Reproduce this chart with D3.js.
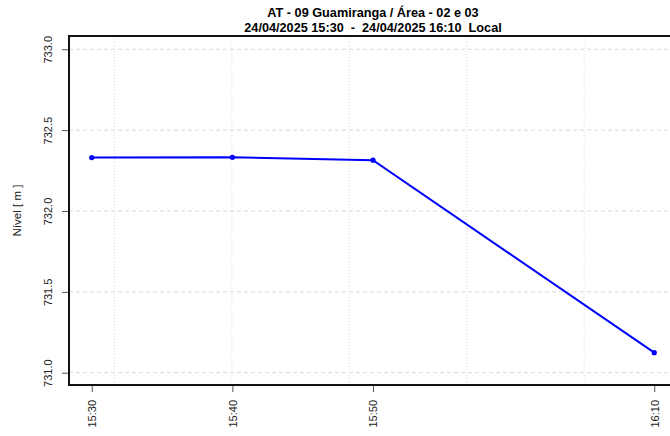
<!DOCTYPE html>
<html>
<head>
<meta charset="utf-8">
<script src="https://cdn.jsdelivr.net/npm/d3@7"></script>
<style>
  body { margin: 0; background: #fff; }
  text { font-family: "Liberation Sans", Arial, sans-serif; }
</style>
</head>
<body>
<svg width="670" height="436"></svg>
<script>
const times = ['15:30', '15:40', '15:50', '16:10']
const levels = [732.33, 732.332, 732.314, 731.124]
const yTicks = [731.0, 731.5, 732.0, 732.5, 733.0]
const gridTimes = ['15:31:37', '15:39:58', '15:48:19', '15:56:40', '16:05:01']
const titleLines = ['AT - 09 Guamiranga / Área - 02 e 03', '24/04/2025 15:30  -  24/04/2025 16:10  Local']

const parseT = s => {
  const p = s.split(':').map(Number)
  return new Date(2025, 3, 24, p[0], p[1], p[2] || 0)
}

const data = times.map((t, i) => ({ t: parseT(t), v: levels[i] }))

const plotL = 69, plotT = 36, plotB = 385, plotR = 677

const x = d3.scaleTime()
  .domain([parseT('15:28:23'), parseT('16:11:37')])
  .range([plotL, plotR])

const y = d3.scaleLinear()
  .domain([730.924, 733.082])
  .range([plotB, plotT])

const svg = d3.select('svg')

// grid
svg.append('g')
  .selectAll('line')
  .data(yTicks)
  .enter()
  .append('line')
  .attr('x1', plotL).attr('x2', plotR)
  .attr('y1', d => y(d)).attr('y2', d => y(d))
  .attr('stroke', '#d9d9d9')
  .attr('stroke-dasharray', '4,3')

svg.append('g')
  .selectAll('line')
  .data(gridTimes.map(parseT))
  .enter()
  .append('line')
  .attr('x1', d => x(d)).attr('x2', d => x(d))
  .attr('y1', plotT).attr('y2', plotB)
  .attr('stroke', '#d9d9d9')
  .attr('stroke-dasharray', '1,2')

// axes
const yAxis = svg.append('g')
  .attr('transform', `translate(${plotL},0)`)
  .call(d3.axisLeft(y).tickValues(yTicks).tickFormat(d3.format('.1f')).tickSize(7))
yAxis.select('.domain').remove()
yAxis.selectAll('.tick line').attr('stroke', '#555')
yAxis.selectAll('.tick text')
  .attr('font-size', 11)
  .attr('fill', '#222')
  .attr('text-anchor', 'middle')
  .attr('x', 0).attr('dy', 0)
  .attr('transform', 'translate(-17,0) rotate(-90)')

const xAxis = svg.append('g')
  .attr('transform', `translate(0,${plotB})`)
  .call(d3.axisBottom(x).tickValues(times.map(parseT)).tickFormat(d3.timeFormat('%H:%M')).tickSize(7))
xAxis.select('.domain').remove()
xAxis.selectAll('.tick line').attr('stroke', '#555')
xAxis.selectAll('.tick text')
  .attr('font-size', 11)
  .attr('fill', '#222')
  .attr('text-anchor', 'end')
  .attr('x', 0).attr('y', 0).attr('dy', '0.35em')
  .attr('transform', 'translate(0,15) rotate(-90)')

// box
svg.append('rect')
  .attr('x', plotL).attr('y', plotT)
  .attr('width', plotR - plotL).attr('height', plotB - plotT)
  .attr('fill', 'none')
  .attr('stroke', '#111')
  .attr('stroke-width', 2)

// series
const line = d3.line().x(d => x(d.t)).y(d => y(d.v))
svg.append('path')
  .datum(data)
  .attr('d', line)
  .attr('fill', 'none')
  .attr('stroke', '#0000ff')
  .attr('stroke-width', 2)

svg.append('g')
  .selectAll('circle')
  .data(data)
  .enter()
  .append('circle')
  .attr('cx', d => x(d.t))
  .attr('cy', d => y(d.v))
  .attr('r', 2.6)
  .attr('fill', '#0000ff')

// titles
svg.append('g')
  .selectAll('text')
  .data(titleLines)
  .enter()
  .append('text')
  .attr('x', (plotL + plotR) / 2)
  .attr('y', (d, i) => 17 + i * 15)
  .attr('text-anchor', 'middle')
  .attr('font-weight', 'bold')
  .attr('font-size', 12.7)
  .style('white-space', 'pre')
  .text(d => d)

svg.append('text')
  .attr('transform', `translate(21,${(plotT + plotB) / 2}) rotate(-90)`)
  .attr('text-anchor', 'middle')
  .attr('font-size', 11.5)
  .attr('fill', '#222')
  .text('Nível [ m ]')
</script>
</body>
</html>
